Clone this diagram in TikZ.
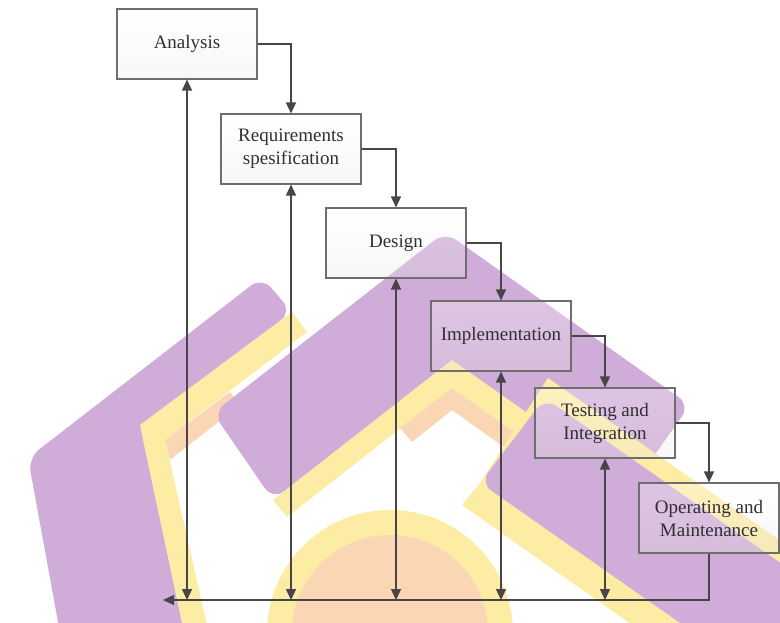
\documentclass[tikz,border=0pt]{standalone}
\usepackage{fontspec}
\setmainfont{Liberation Serif}
\usetikzlibrary{arrows.meta}
\definecolor{wmpurple}{RGB}{208,172,216}
\definecolor{wmyellow}{RGB}{252,236,164}
\definecolor{wmpeach}{RGB}{250,214,180}
\definecolor{linec}{RGB}{72,68,72}
\definecolor{boxline}{RGB}{110,110,110}
\definecolor{textc}{RGB}{50,46,52}
\tikzset{
  stagebox/.style={draw=boxline, line width=1.1pt, minimum width=140pt, minimum height=70pt,
    top color=white, bottom color=black!10, fill opacity=0.3, text opacity=1, draw opacity=1,
    align=center, text=textc, font=\fontsize{19}{23}\selectfont},
  conn/.style={draw=linec, line width=1.4pt},
  tip/.style={-{Triangle[length=11pt,width=10pt]}},
  both/.style={{Triangle[length=11pt,width=10pt]}-{Triangle[length=11pt,width=10pt]}},
  wm/.style={rounded corners=14pt}
}
\begin{document}
\begin{tikzpicture}[x=1pt,y=-1pt]
\useasboundingbox (0,0) rectangle (780,623);
% watermark
\begin{scope}
\clip (0,0) rectangle (780,623);
\fill[wmyellow] (390,633) circle (123);
\fill[wmpeach] (390,633) circle (98);
% left chevron
\fill[wmpurple,wm] (262,277) -- (292,312) -- (140,425) -- (190,660) -- (65,660) -- (28,458) -- cycle;
\fill[wmyellow] (292,312) -- (307,332) -- (165,440) -- (215,660) -- (190,660) -- (140,425) -- cycle;
\fill[wmpeach] (165,440) -- (230,392) -- (240,405) -- (170,460) -- cycle;
% middle chevron
\fill[wmpurple,wm] (445,232) -- (690,405) -- (632,487) -- (452,360) -- (273,500) -- (213,413) -- cycle;
\fill[wmyellow] (273,500) -- (452,360) -- (632,487) -- (619,505) -- (452,388) -- (287,517) -- cycle;
\fill[wmpeach] (400,428) -- (452,388) -- (520,436) -- (508,450) -- (452,410) -- (412,442) -- cycle;
% lower right band
\fill[wmyellow] (548,378) -- (480,483) -- (480+500*0.819,483+500*0.574) -- (548+500*0.819,378+500*0.574) -- cycle;
\fill[wmpurple,wm] (545,398) -- (480,483) -- (480+500*0.819,483+500*0.574) -- (545+500*0.819,398+500*0.574) -- cycle;
\fill[wmyellow] (480,483) -- (480+400*0.819,483+400*0.574) -- (460+400*0.819,505+400*0.574) -- (462,505) -- cycle;
\end{scope}
% stages
\node[stagebox] (an) at (187,44) {Analysis};
\node[stagebox] (rq) at (291,149) {Requirements\\spesification};
\node[stagebox] (ds) at (396,243) {Design};
\node[stagebox] (im) at (501,336) {Implementation};
\node[stagebox] (ts) at (605,423) {Testing and\\Integration};
\node[stagebox] (op) at (709,518) {Operating and\\Maintenance};
\coordinate (bl) at (163,600);
% forward flow
\draw[conn,tip] (an.east) -| (rq.north);
\draw[conn,tip] (rq.east) -| (ds.north);
\draw[conn,tip] (ds.east) -| (im.north);
\draw[conn,tip] (im.east) -| (ts.north);
\draw[conn,tip] (ts.east) -| (op.north);
% feedback
\draw[conn,tip] (op.south) |- (bl);
\draw[conn,both] (an.south) -- (an.south |- bl);
\draw[conn,both] (rq.south) -- (rq.south |- bl);
\draw[conn,both] (ds.south) -- (ds.south |- bl);
\draw[conn,both] (im.south) -- (im.south |- bl);
\draw[conn,both] (ts.south) -- (ts.south |- bl);
\end{tikzpicture}
\end{document}
